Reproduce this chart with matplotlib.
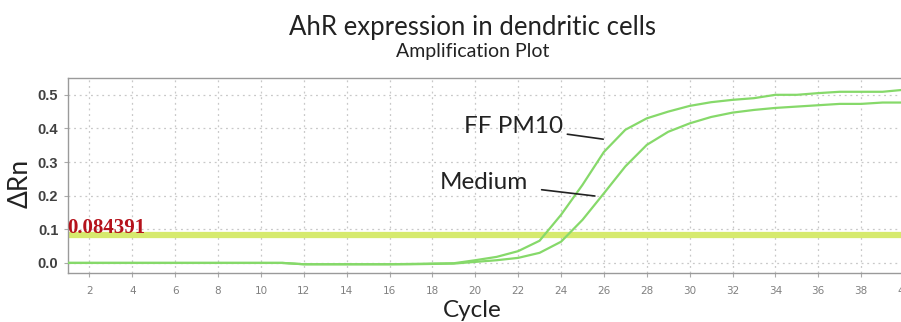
import matplotlib
matplotlib.use("Agg")
import matplotlib.pyplot as plt

cycles = list(range(1, 41))
ff_pm10 = [0.0, 0.0, 0.0, 0.0, 0.0, 0.0, 0.0, 0.0, 0.0, 0.0,
           0.0, -0.004, -0.004, -0.004, -0.004, -0.004, -0.003, -0.002, -0.001, 0.008,
           0.018, 0.035, 0.066, 0.143, 0.232, 0.33, 0.396, 0.43, 0.45, 0.467,
           0.478, 0.485, 0.49, 0.50, 0.50, 0.505, 0.509, 0.509, 0.509, 0.515]
medium = [0.0, 0.0, 0.0, 0.0, 0.0, 0.0, 0.0, 0.0, 0.0, 0.0,
          0.0, -0.004, -0.004, -0.004, -0.004, -0.004, -0.004, -0.003, -0.002, 0.003,
          0.008, 0.015, 0.03, 0.063, 0.128, 0.207, 0.287, 0.351, 0.39, 0.415,
          0.434, 0.447, 0.455, 0.461, 0.465, 0.469, 0.473, 0.473, 0.477, 0.477]
threshold = 0.084391
xticks = list(range(2, 41, 2))
yticks = [0.0, 0.1, 0.2, 0.3, 0.4, 0.5]

fig = plt.figure(figsize=(9.01, 3.22), dpi=100)
ax = fig.add_axes([68/901, 1-273/322, 836/901, 195/322])
ax.set_xlim(1, 40)
ax.set_ylim(-0.03, 0.55)

curve_color = "#86d96a"
ax.axhline(threshold, color="#d6ea6e", lw=4.5, zorder=2)
ax.plot(cycles, ff_pm10, color=curve_color, lw=1.6, zorder=3)
ax.plot(cycles, medium, color=curve_color, lw=1.6, zorder=3)

ax.set_xticks(xticks)
ax.set_yticks(yticks)
ax.set_yticklabels([f"{v:.1f}" for v in yticks])
ax.grid(True, color="#c8c8c8", ls=(0, (1.5, 3)), lw=0.9)
ax.tick_params(axis="x", labelsize=7.5, labelcolor="#808080", color="#aaaaaa", length=3, pad=6)
ax.tick_params(axis="y", labelsize=10.5, labelcolor="#404040", color="#aaaaaa", length=3, pad=4)
for lab in ax.get_yticklabels():
    lab.set_fontweight("bold")
    lab.set_family("Liberation Sans")
for s in ["left", "bottom", "top"]:
    ax.spines[s].set_color("#9a9a9a")
    ax.spines[s].set_linewidth(1.0)
ax.spines["right"].set_visible(False)

ax.text(0.95, threshold + 0.004, "0.084391", color="#b5121b", fontsize=15,
        fontweight="bold", family="Liberation Serif", ha="left", va="baseline", zorder=4)

ax.set_ylabel("ΔRn", fontsize=19, family="Lato", color="#222222")
ax.yaxis.set_label_coords((33 - 68) / 836, (273 - 183) / 195)
ax.set_xlabel("Cycle", fontsize=17.5, family="Lato", color="#222222")
ax.xaxis.set_label_coords((472 - 68) / 836, -0.138)

fig.text(472/901, 1-27/322, "AhR expression in dendritic cells", ha="center", va="center",
         fontsize=18.5, family="Lato", color="#222222")
fig.text(473/901, 1-51/322, "Amplification Plot", ha="center", va="center",
         fontsize=14, family="Lato", color="#222222")

ax.annotate("FF PM10", xy=(25.97, 0.368), xytext=(24.1, 0.405), fontsize=17.5, family="Lato",
            ha="right", va="center", color="#222222",
            arrowprops=dict(arrowstyle="-", color="#222222", lw=1.2, shrinkA=1, shrinkB=0))
ax.annotate("Medium", xy=(25.58, 0.199), xytext=(22.45, 0.238), fontsize=17.5, family="Lato",
            ha="right", va="center", color="#222222",
            arrowprops=dict(arrowstyle="-", color="#222222", lw=1.2, shrinkA=8, shrinkB=0))

fig.savefig("out.png", dpi=100)
